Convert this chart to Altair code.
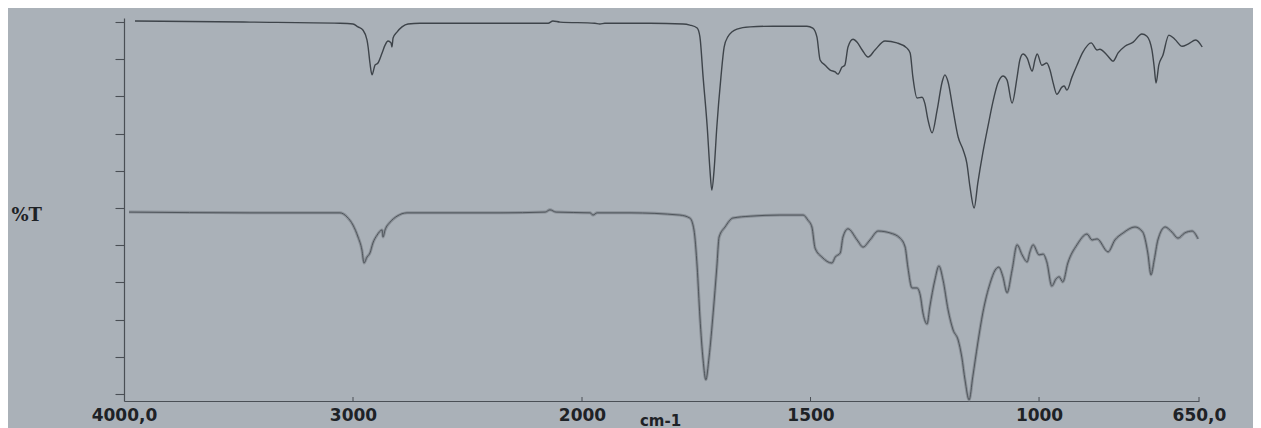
import altair as alt
import pandas as pd

# ---- data (wavenumber in cm-1, transmittance in arbitrary %T units) ----
top_wn = [3952, 3450, 3057, 3000, 2978, 2956, 2939, 2934, 2926, 2917, 2904, 2891, 2873, 2860,
          2847, 2834, 2830, 2825, 2808, 2786, 2760, 2707, 2358, 2148, 2127, 2096, 1972, 1961,
          1950, 1851, 1779, 1764, 1748, 1742, 1735, 1726, 1720, 1716, 1711, 1705, 1696, 1689,
          1681, 1661, 1632, 1582, 1508, 1495, 1486, 1479, 1468, 1457, 1446, 1440, 1431, 1425,
          1418, 1407, 1398, 1387, 1374, 1359, 1337, 1311, 1289, 1282, 1276, 1267, 1256, 1250,
          1243, 1234, 1223, 1212, 1206, 1199, 1188, 1177, 1166, 1158, 1151, 1142, 1134, 1123,
          1112, 1101, 1090, 1079, 1070, 1059, 1048, 1042, 1035, 1026, 1015, 1009, 1004, 994,
          983, 976, 969, 961, 950, 945, 939, 928, 917, 904, 886, 873, 867, 851, 838, 827, 812,
          794, 775, 764, 753, 748, 744, 738, 729, 716, 703, 687, 674, 657, 643]
top_t = [100.3, 100.0, 99.7, 99.5, 98.7, 97.8, 95.2, 93.3, 89.0, 85.8, 88.4, 89.0, 91.7, 93.8,
         94.9, 94.4, 93.3, 95.7, 97.3, 98.7, 99.5, 99.7, 99.7, 99.7, 100.3, 100.0, 99.7, 99.5,
         99.7, 99.7, 99.5, 99.2, 98.4, 96.0, 85.2, 71.8, 60.2, 54.8, 60.2, 71.8, 85.2, 93.3,
         96.0, 98.1, 98.7, 98.9, 98.9, 98.4, 96.0, 89.8, 88.4, 87.1, 86.6, 86.0, 87.9, 88.4,
         93.3, 95.4, 94.6, 92.5, 90.6, 92.5, 94.9, 94.4, 93.0, 91.7, 85.2, 79.6, 79.8, 78.2,
         73.7, 70.2, 76.3, 83.9, 85.8, 83.9, 76.3, 69.1, 65.6, 62.1, 55.6, 50.0, 56.7, 64.8,
         71.8, 78.5, 83.6, 85.5, 84.4, 78.2, 85.2, 89.8, 91.4, 90.3, 86.8, 89.8, 91.4, 88.4,
         89.0, 87.1, 83.6, 80.6, 82.5, 82.8, 81.7, 85.2, 88.4, 91.9, 94.4, 92.5, 92.7, 91.1,
         89.5, 91.7, 93.5, 94.6, 96.8, 96.2, 92.5, 87.9, 83.6, 88.4, 91.1, 96.5, 95.4, 93.5,
         94.1, 95.2, 93.3]

bot_wn = [3978, 3450, 3057, 3026, 3000, 2978, 2961, 2952, 2939, 2926, 2913, 2895, 2873, 2869,
          2860, 2838, 2808, 2764, 2358, 2161, 2140, 2113, 1982, 1976, 1967, 1895, 1786, 1764,
          1755, 1748, 1742, 1735, 1729, 1722, 1713, 1705, 1700, 1687, 1670, 1632, 1567, 1516,
          1506, 1497, 1490, 1475, 1453, 1446, 1435, 1429, 1418, 1398, 1385, 1370, 1352, 1326,
          1304, 1293, 1287, 1278, 1267, 1260, 1254, 1245, 1239, 1228, 1219, 1210, 1199, 1188,
          1177, 1169, 1162, 1153, 1145, 1134, 1123, 1107, 1096, 1088, 1079, 1070, 1059, 1048,
          1037, 1026, 1020, 1013, 1000, 991, 983, 972, 963, 956, 948, 937, 917, 895, 884, 873,
          849, 834, 816, 790, 773, 762, 755, 748, 740, 724, 709, 696, 681, 665, 652]
bot_t = [48.9, 48.7, 48.7, 47.6, 45.4, 42.2, 38.7, 35.2, 36.8, 37.9, 40.6, 42.7, 44.1, 42.2,
         44.1, 46.2, 47.8, 48.7, 48.7, 48.9, 49.5, 48.9, 48.7, 48.1, 48.7, 48.7, 48.1, 47.3,
         44.1, 34.1, 20.7, 9.1, 3.8, 9.9, 21.8, 34.1, 42.2, 44.9, 47.3, 47.8, 48.1, 48.1,
         46.8, 44.9, 39.2, 36.8, 35.2, 36.8, 37.9, 42.2, 44.4, 41.4, 39.5, 41.4, 43.8, 43.3,
         41.9, 39.5, 34.1, 28.5, 28.5, 26.6, 21.8, 18.8, 23.4, 30.6, 34.4, 30.6, 22.6, 17.2,
         14.5, 9.9, 3.8, -1.6, 4.6, 13.7, 21.8, 29.8, 33.3, 34.1, 31.5, 27.2, 33.3, 40.1,
         37.4, 35.5, 38.2, 40.1, 37.4, 37.6, 35.5, 29.0, 30.9, 31.5, 30.1, 35.2, 40.1, 43.0,
         41.4, 41.7, 38.2, 41.4, 43.3, 44.9, 43.5, 37.9, 32.0, 36.0, 41.4, 44.9, 43.5, 41.9,
         43.3, 43.8, 41.7]

x_ticks = [4000, 3000, 2000, 1500, 1000, 650]
minor_x_ticks = [3000, 2000, 1500, 1000, 650]
y_ticks = [0, 10, 20, 30, 40, 50, 60, 70, 80, 90, 100]

top_df = pd.DataFrame({"wavenumber": top_wn, "T": top_t})
bot_df = pd.DataFrame({"wavenumber": bot_wn, "T": bot_t})
tick_df = pd.DataFrame({"wavenumber": minor_x_ticks})

W, H = 1075, 383
BG = "#aab1b8"
AXC = "#4a4f55"
TXT = "#1e2226"

xscale = alt.Scale(domain=[4000, 2000, 650], range=[0, 458, 1075], nice=False, zero=False)
yscale = alt.Scale(domain=[-1.9, 101.1], nice=False, zero=False)

xaxis = alt.Axis(
    values=x_ticks, tickCount=20, ticks=False, grid=False, domainColor=AXC, domainWidth=1.2,
    labelExpr="datum.value == 4000 ? '4000,0' : (datum.value == 650 ? '650,0' : datum.label)",
    labelFont="DejaVu Sans", labelFontWeight="bold", labelFontSize=17, labelColor=TXT,
    labelPadding=6, labelBaseline="top", labelFlush=False, labelOverlap=False, labelBound=False,
    format="d",
    title="cm-1", titleFont="DejaVu Sans", titleFontWeight="bold", titleFontSize=15,
    titleColor=TXT, titleX=536, titleY=12, titleBaseline="top", titleAlign="center",
)
yaxis = alt.Axis(
    values=y_ticks, tickCount=20, labels=False, grid=False, tickSize=9, tickColor=AXC,
    tickWidth=1.1, domainColor=AXC, domainWidth=1.2,
    title="%T", titleAngle=0, titleX=-113, titleY=197, titleAlign="left",
    titleBaseline="middle", titleFont="DejaVu Serif", titleFontWeight="bold",
    titleFontSize=18, titleColor=TXT,
)

top_line = alt.Chart(top_df).mark_line(color="#3e444a", strokeWidth=1.4, interpolate="monotone").encode(
    x=alt.X("wavenumber:Q", scale=xscale, axis=xaxis),
    y=alt.Y("T:Q", scale=yscale, axis=yaxis),
    order=alt.Order("wavenumber:Q", sort="descending"),
)
bot_halo = alt.Chart(bot_df).mark_line(color="#8a9097", strokeWidth=3.0, interpolate="monotone").encode(
    x=alt.X("wavenumber:Q", scale=xscale),
    y=alt.Y("T:Q", scale=yscale),
    order=alt.Order("wavenumber:Q", sort="descending"),
)
bot_line = alt.Chart(bot_df).mark_line(color="#50565c", strokeWidth=1.0, interpolate="monotone").encode(
    x=alt.X("wavenumber:Q", scale=xscale),
    y=alt.Y("T:Q", scale=yscale),
    order=alt.Order("wavenumber:Q", sort="descending"),
)
xticks = alt.Chart(tick_df).mark_rule(color=AXC, strokeWidth=1).encode(
    x=alt.X("wavenumber:Q", scale=xscale),
    y=alt.value(H - 4),
    y2=alt.value(H),
)

chart = alt.layer(bot_halo, bot_line, top_line, xticks).properties(
    width=W, height=H,
    background=BG,
    autosize=alt.AutoSizeParams(type="none"),
    padding={"left": 116, "top": 10, "right": 54, "bottom": 27},
).configure_view(stroke=None)

chart.save("out.html", embed_options={"renderer": "svg", "actions": False})
